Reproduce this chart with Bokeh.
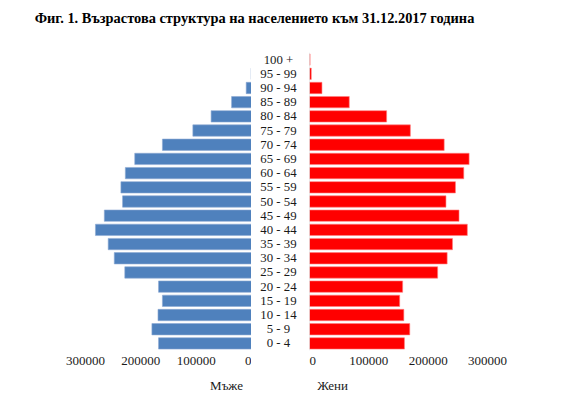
from bokeh.plotting import figure
from bokeh.models import Range1d, FactorRange, FixedTicker, NumeralTickFormatter, Span, Label, ColumnDataSource
from bokeh.layouts import column, row
from bokeh.core.properties import value
from bokeh.embed import file_html
from bokeh.resources import INLINE

# ---- data ----
ages = ["0 - 4", "5 - 9", "10 - 14", "15 - 19", "20 - 24", "25 - 29", "30 - 34",
        "35 - 39", "40 - 44", "45 - 49", "50 - 54", "55 - 59", "60 - 64", "65 - 69",
        "70 - 74", "75 - 79", "80 - 84", "85 - 89", "90 - 94", "95 - 99", "100 +"]
male = [168000, 180000, 169000, 161000, 168000, 229000, 248000, 259000, 282000, 266000,
        233000, 236000, 228000, 211000, 161000, 106000, 73000, 36000, 9600, 700, 100]
female = [160000, 169000, 159000, 152000, 157000, 216000, 232000, 241000, 266000, 252000,
          230000, 246000, 260000, 269000, 227000, 170000, 130000, 67000, 21000, 3000, 1000]
tick_values = [0, 100000, 200000, 300000]
title_text = "Фиг. 1. Възрастова структура на населението към 31.12.2017 година"
male_label = "Мъже"
female_label = "Жени"

FONT = "Liberation Serif"
TXT = "#1a1a1a"
BLUE = "#4F81BD"
RED = "#FF0000"

src = ColumnDataSource(dict(age=ages, male=male, female=female))
yr = FactorRange(*ages, range_padding=0)


def style(p):
    p.outline_line_color = None
    p.background_fill_color = "white"
    p.border_fill_color = "white"
    p.xgrid.visible = False
    p.ygrid.visible = False


def style_xaxis(p):
    ax = p.xaxis[0]
    ax.ticker = FixedTicker(ticks=tick_values)
    ax.formatter = NumeralTickFormatter(format="0")
    ax.axis_line_color = None
    ax.major_tick_line_color = None
    ax.minor_tick_line_color = None
    ax.major_tick_out = 0
    ax.major_tick_in = 0
    ax.major_label_standoff = 6
    ax.major_label_text_font = FONT
    ax.major_label_text_font_size = "13px"
    ax.major_label_text_color = TXT


def blank(w, h):
    p = figure(width=w, height=h, x_range=Range1d(0, w), y_range=Range1d(h, 0),
               x_axis_location=None, y_axis_location=None, toolbar_location=None,
               output_backend="svg", min_border=0)
    style(p)
    return p


# ---- title ----
pt = blank(584, 38)
pt.add_layout(Label(x=254, y=17.5, text=title_text, text_font=FONT, text_font_size="14.4px",
                    text_font_style="bold", text_align="center", text_baseline="alphabetic",
                    text_color="black"))

ROW_H = 334
# ---- left (male) ----
pl = figure(width=251, height=ROW_H, x_range=Range1d(300000, 0), y_range=yr,
            y_axis_location=None, toolbar_location=None, output_backend="svg",
            min_border_left=85, min_border_right=0, min_border_top=14, min_border_bottom=22)
style(pl)
style_xaxis(pl)
pl.hbar(y="age", left=0, right="male", height=0.8, source=src, fill_color=BLUE,
        line_color="#8DAAD3", line_width=0.6)
pl.add_layout(Span(location=0, dimension="height", line_color="#D9D9D9", line_width=1))

# ---- middle (categories) ----
pm = figure(width=58, height=ROW_H, x_range=Range1d(0, 58), y_range=yr,
            x_axis_location=None, y_axis_location=None, toolbar_location=None,
            output_backend="svg", min_border_left=0, min_border_right=0,
            min_border_top=14, min_border_bottom=22)
style(pm)
pm.text(x=27, y="age", text="age", source=src, text_font=value(FONT),
        text_font_size="12.8px", text_align="center", text_baseline="middle", text_color=TXT)

# ---- right (female) ----
pr = figure(width=275, height=ROW_H, x_range=Range1d(0, 300000), y_range=yr,
            y_axis_location=None, toolbar_location=None, output_backend="svg",
            min_border_left=0, min_border_right=97, min_border_top=14, min_border_bottom=22)
style(pr)
style_xaxis(pr)
pr.hbar(y="age", left=0, right="female", height=0.8, source=src, fill_color=RED,
        line_color="#FF8080", line_width=0.6)
pr.add_layout(Span(location=0, dimension="height", line_color="#D9D9D9", line_width=1))

# ---- bottom axis titles ----
pb = blank(584, 23)
pb.add_layout(Label(x=226, y=12.5, text=male_label, text_font=FONT, text_font_size="13px",
                    text_align="center", text_baseline="middle", text_color=TXT))
pb.add_layout(Label(x=332, y=12.5, text=female_label, text_font=FONT, text_font_size="13px",
                    text_align="center", text_baseline="middle", text_color=TXT))

layout = column(pt, row(pl, pm, pr), pb)
open("out.html", "w").write(file_html(layout, INLINE))
